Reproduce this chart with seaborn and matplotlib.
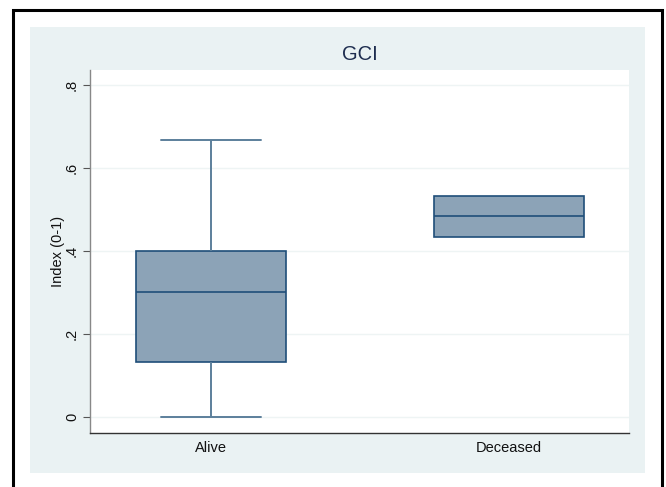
import matplotlib
matplotlib.use("Agg")
import matplotlib.pyplot as plt
import seaborn as sns
import pandas as pd
from matplotlib.patches import Rectangle

# Data (values chosen so quartiles/whiskers match)
groups = ["Alive", "Deceased"]
alive_values = [0.0, 0.133, 0.300, 0.400, 0.667]
deceased_values = [0.433, 0.433, 0.533, 0.533]
yticks = [0, 0.2, 0.4, 0.6, 0.8]
ytick_labels = ["0", ".2", ".4", ".6", ".8"]
title = "GCI"
ylabel = "Index (0-1)"

df = pd.DataFrame({
    "group": ["Alive"] * len(alive_values) + ["Deceased"] * len(deceased_values),
    "value": alive_values + deceased_values,
})

sns.set_theme(style="white")
plt.rcParams["font.family"] = ["Liberation Sans", "DejaVu Sans"]

W, H = 666, 487
fig = plt.figure(figsize=(W / 100, H / 100), dpi=100)
fig.patch.set_facecolor("white")

# outer black frame
fig.patches.append(Rectangle((13 / W, -0.02), (662 - 13) / W, (H - 10) / H + 0.02,
                             transform=fig.transFigure, fill=False,
                             edgecolor="black", linewidth=2.2, zorder=-2))
# light blue graph region
fig.patches.append(Rectangle((30 / W, 1 - 473 / H), (645 - 30) / W, (473 - 27) / H,
                             transform=fig.transFigure, facecolor="#EAF2F3",
                             edgecolor="none", zorder=-1))

ax = fig.add_axes([90 / W, 1 - 433 / H, (629 - 90) / W, (433 - 70) / H])
ax.set_zorder(1)
ax.set_facecolor("white")

fill = "#8CA3B7"
edge = "#1F4E79"
wcol = "#5C7F9B"
box_w = 0.503
sns.boxplot(data=df, x="group", y="value", order=groups, ax=ax,
            color=fill, width=box_w, saturation=1, linewidth=1.2,
            whis=1.5, showfliers=False,
            boxprops=dict(facecolor=fill, edgecolor=edge, linewidth=1.2),
            medianprops=dict(color=edge, linewidth=1.2),
            whiskerprops=dict(color=wcol, linewidth=1.4),
            capprops=dict(color=wcol, linewidth=1.4))

# widen caps to 2/3 of the box width; hide caps that sit on a box edge
for line in ax.lines:
    xd = list(line.get_xdata())
    yd = list(line.get_ydata())
    if len(xd) == 2 and yd[0] == yd[1] and xd[0] != xd[1]:
        length = abs(xd[1] - xd[0])
        if abs(length - box_w) > 1e-6:  # a cap, not a median
            c = (xd[0] + xd[1]) / 2
            half = box_w / 3
            line.set_xdata([c - half, c + half])
            if round(c) == 1:
                line.set_visible(False)

ax.set_xlim(-0.406, 1.403)
ax.set_ylim(-0.039, 0.836)
ax.set_yticks(yticks)
ax.set_yticklabels(ytick_labels, rotation=90, va="center", fontsize=10.5, color="#111111")
ax.set_xticks([0, 1])
ax.set_xticklabels(groups, fontsize=10.5, color="#111111")
ax.tick_params(axis="y", length=5, width=0.8, color="#555555", pad=3, left=True)
ax.tick_params(axis="x", length=0, pad=6)
ax.set_xlabel("")
ax.set_ylabel(ylabel, fontsize=10.5, color="#111111", labelpad=0)
ax.set_axisbelow(True)
ax.yaxis.grid(True, color="#EEF4F4", linewidth=1.0)
ax.xaxis.grid(False)

for s in ["top", "right"]:
    ax.spines[s].set_visible(False)
ax.spines["left"].set_color("#888888")
ax.spines["left"].set_linewidth(1.0)
ax.spines["bottom"].set_color("#333333")
ax.spines["bottom"].set_linewidth(1.0)

fig.text((90 + 629) / 2 / W, 1 - 54 / H, title, ha="center", va="center",
         fontsize=14.5, color="#1E2D4F")

fig.savefig("out.png", dpi=100)
